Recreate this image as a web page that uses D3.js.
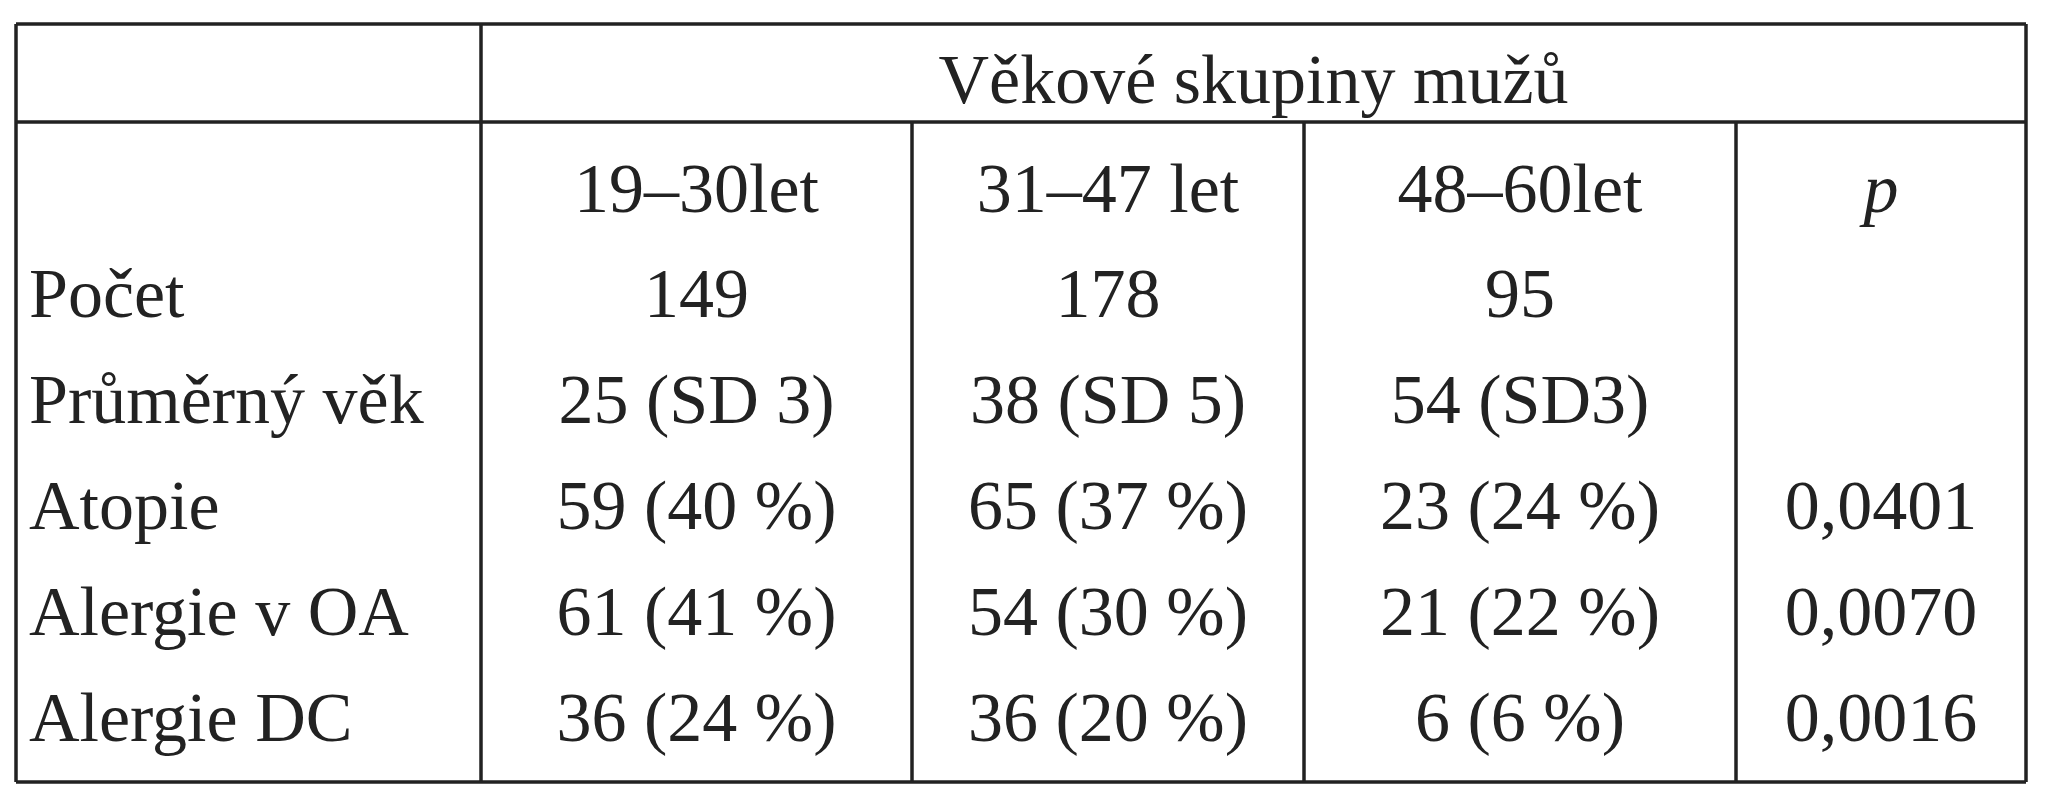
<!DOCTYPE html>
<html><head><meta charset="utf-8">
<script src="https://cdn.jsdelivr.net/npm/d3@7"></script>
<style>body{margin:0;background:#fff}text{font-family:"Liberation Serif",serif;fill:#222}</style>
</head><body><svg id="c" width="2050" height="800"></svg>
<script>
const groupTitle = "Věkové skupiny mužů";
const columns = ["19–30let", "31–47 let", "48–60let", "p"];
const rowLabels = ["Počet", "Průměrný věk", "Atopie", "Alergie v OA", "Alergie DC"];
const col1 = ["149", "25 (SD 3)", "59 (40 %)", "61 (41 %)", "36 (24 %)"];
const col2 = ["178", "38 (SD 5)", "65 (37 %)", "54 (30 %)", "36 (20 %)"];
const col3 = ["95", "54 (SD3)", "23 (24 %)", "21 (22 %)", "6 (6 %)"];
const pVals = ["", "", "0,0401", "0,0070", "0,0016"];

const svg = d3.select("#c");
const L = 16, R = 2026, T = 24, B = 782, H1 = 122;
const colEdges = [481, 912, 1304, 1736];
const x = d3.scaleOrdinal().domain(columns).range(columns.map((c,i)=>(colEdges[i]+(colEdges[i+1]||R))/2));
const y = d3.scalePoint().domain(["head", ...rowLabels]).range([187, 716]);
const fs = 70;
const line = (x1,y1,x2,y2)=>svg.append("line").attr("x1",x1).attr("y1",y1).attr("x2",x2).attr("y2",y2).attr("stroke","#222").attr("stroke-width",3.5);
line(L,T,R,T); line(L,B,R,B); line(L,T,L,B); line(R,T,R,B);
line(L,H1,R,H1);
line(colEdges[0],T,colEdges[0],B);
colEdges.slice(1).forEach(c=>line(c,H1,c,B));
svg.append("text").attr("x",(colEdges[0]+R)/2).attr("y",78).attr("dy","0.35em").attr("text-anchor","middle").attr("font-size",fs).text(groupTitle);
columns.forEach(c=>svg.append("text").attr("x",x(c)).attr("y",y("head")).attr("dy","0.35em").attr("text-anchor","middle").attr("font-size",fs).attr("font-style",c==="p"?"italic":null).text(c));
rowLabels.forEach((r,i)=>{
  svg.append("text").attr("x",29).attr("y",y(r)).attr("dy","0.35em").attr("font-size",fs).text(r);
  [col1,col2,col3,pVals].forEach((arr,j)=>svg.append("text").attr("x",x(columns[j])).attr("y",y(r)).attr("dy","0.35em").attr("text-anchor","middle").attr("font-size",fs).text(arr[i]));
});
</script></body></html>
